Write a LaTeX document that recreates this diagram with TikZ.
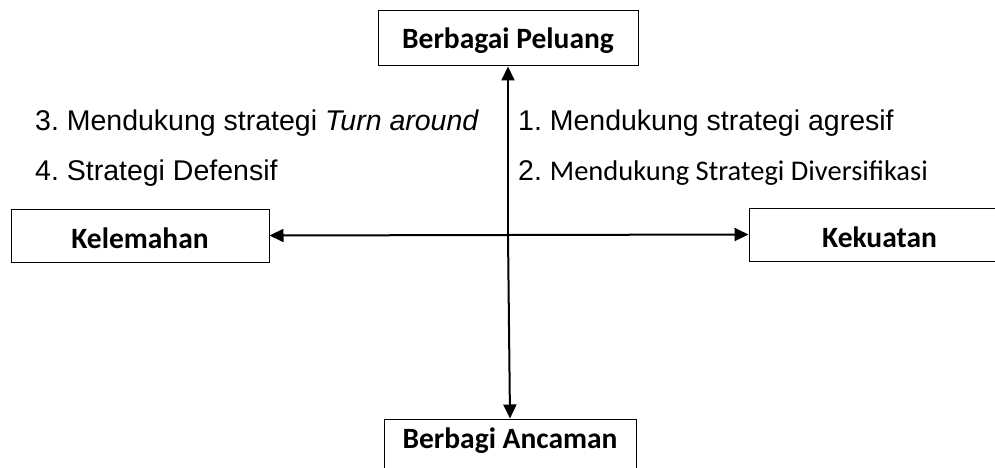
\documentclass[tikz,border=0pt]{standalone}
\usepackage{fontspec}
\setmainfont{Liberation Sans}
\newfontfamily\calfont{Carlito}
\usetikzlibrary{arrows.meta}
\frenchspacing
\begin{document}
\begin{tikzpicture}[x=1pt,y=-1pt,
  box/.style={draw=black,line width=1pt,fill=white,inner sep=0pt,
    font=\calfont\bfseries\fontsize{29.5}{32}\selectfont},
  axis/.style={line width=2pt,-{Triangle[length=14pt,width=13pt]}},
  lbl/.style={anchor=base west,inner sep=0pt,font=\fontsize{28.5}{32}\selectfont}]
\useasboundingbox (0,0) rectangle (995,468);
\fill[white] (0,0) rectangle (995,468);

% quadrant boxes
\node[box,minimum width=260pt,minimum height=55pt,text height=21pt,text depth=0pt]
  (up) at (508,38.5) {Berbagai Peluang};
\node[box,minimum width=258pt,minimum height=53pt,text height=25pt,text depth=0pt]
  (left) at (140,235.5) {Kelemahan};
\node[box,minimum width=260pt,minimum height=53pt,text height=25pt,text depth=0pt]
  (right) at (879,234.5) {\hspace*{1pt}Kekuatan};
\node[box,minimum width=252pt,minimum height=60pt,text height=20pt,text depth=22pt]
  (down) at (510,449) {Berbagi Ancaman};

% axes
\coordinate (c) at (508,235);
\draw[axis] (c) -- (up.south);
\draw[axis] (c) -- (down.north);
\draw[axis] (c) -- (left.east);
\draw[axis] (c) -- (right.west);

% strategy labels
\node[lbl] (s3) at (35,130) {3. Mendukung strategi \textit{Turn around}};
\node[lbl] (s4) at (35,180) {4. Strategi Defensif};
\node[lbl] (s1) at (518,130) {1. Mendukung strategi agresif};
\node[lbl] (s2) at (518,180) {2. {\calfont Mendukung Strategi Diversifikasi}};
\end{tikzpicture}
\end{document}
